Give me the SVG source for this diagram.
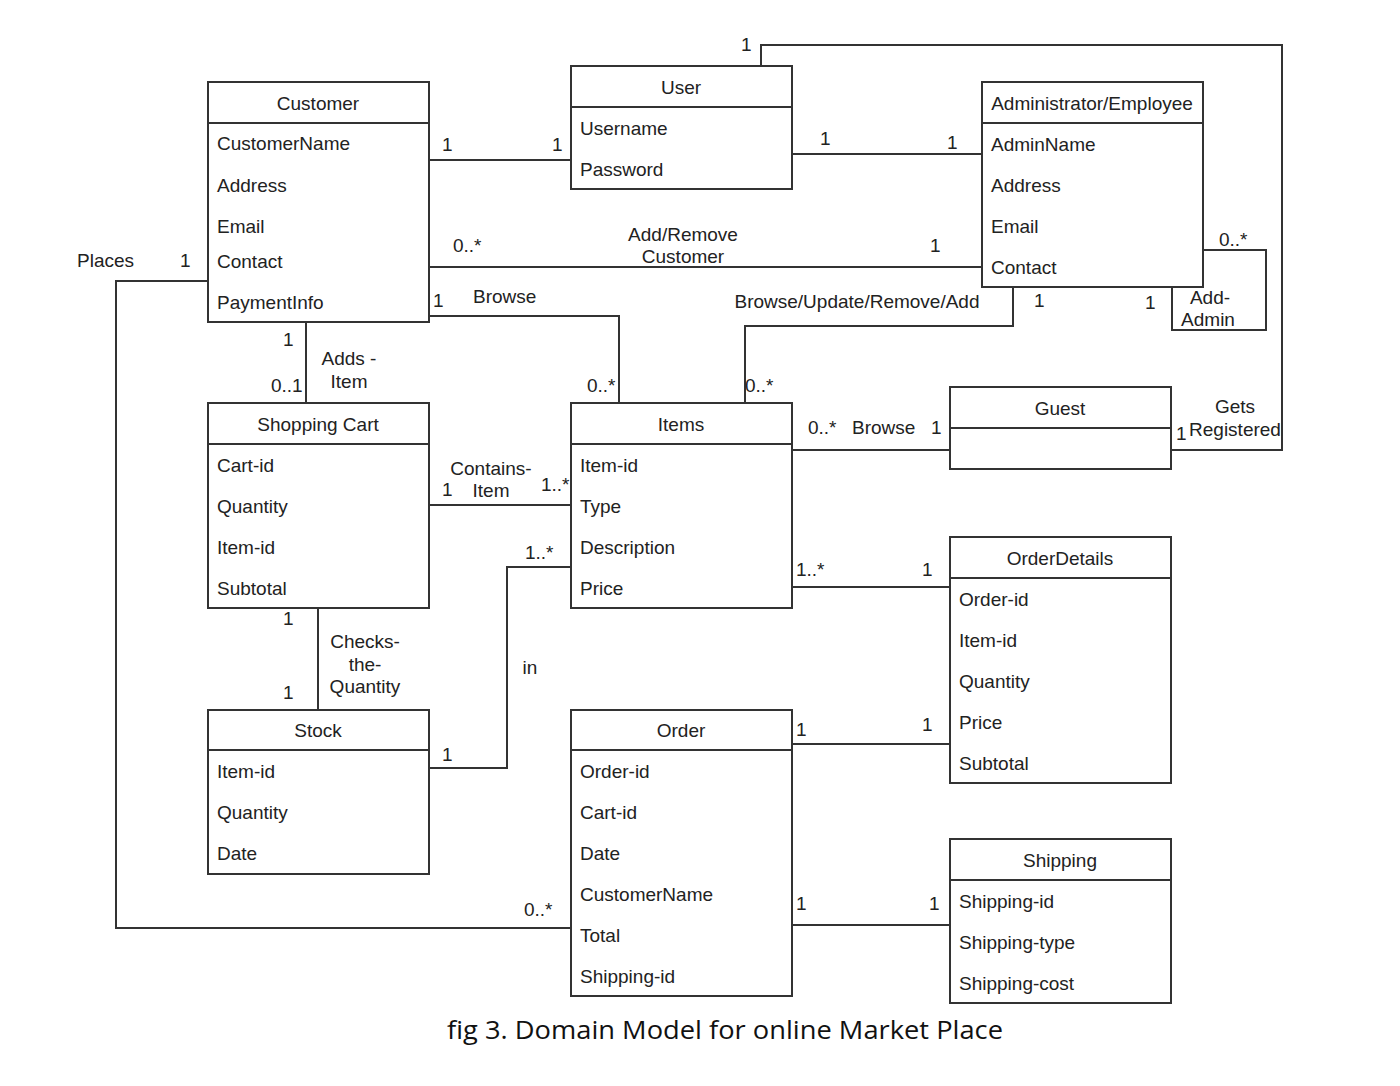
<svg xmlns="http://www.w3.org/2000/svg" width="1400" height="1086" viewBox="0 0 1400 1086">
<style>
.box{fill:#fff;stroke:#333;stroke-width:2}
.div{stroke:#333;stroke-width:2}
.t{font-family:"Liberation Sans",Arial,sans-serif;font-size:19px;fill:#222}
.c{text-anchor:middle}
.ln{fill:none;stroke:#333;stroke-width:2}
.cap{font-family:"Open Sans","Noto Sans",sans-serif;font-size:26px;fill:#111;text-anchor:middle}
</style>
<rect width="1400" height="1086" fill="#fff"/>
<g id="connectors">
<path class="ln" d="M429 160H571"/>
<path class="ln" d="M792 154H982"/>
<path class="ln" d="M429 267H982"/>
<path class="ln" d="M429 316H619V403"/>
<path class="ln" d="M1013 287V326H745V403"/>
<path class="ln" d="M1203 250H1266V330H1172V287"/>
<path class="ln" d="M761 66V45H1282V450H1171"/>
<path class="ln" d="M792 450H950"/>
<path class="ln" d="M306 322V403"/>
<path class="ln" d="M429 505H571"/>
<path class="ln" d="M318 608V710"/>
<path class="ln" d="M429 768H507V567H571"/>
<path class="ln" d="M792 587H950"/>
<path class="ln" d="M792 744H950"/>
<path class="ln" d="M792 925H950"/>
<path class="ln" d="M208 281H116V928H571"/>
<g class="t">
<text x="442" y="151">1</text>
<text x="552" y="151">1</text>
<text x="820" y="145">1</text>
<text x="947" y="149">1</text>
<text x="453" y="252">0..*</text>
<text class="c" x="683" y="241">Add/Remove</text>
<text class="c" x="683" y="263">Customer</text>
<text x="930" y="252">1</text>
<text x="433" y="307">1</text>
<text x="473" y="303">Browse</text>
<text x="587" y="392">0..*</text>
<text class="c" x="857" y="308">Browse/Update/Remove/Add</text>
<text x="1034" y="307">1</text>
<text x="745" y="392">0..*</text>
<text x="1219" y="246">0..*</text>
<text x="1145" y="309">1</text>
<text class="c" x="1210" y="304">Add-</text>
<text class="c" x="1208" y="326">Admin</text>
<text x="741" y="51">1</text>
<text class="c" x="1235" y="413">Gets</text>
<text class="c" x="1235" y="436">Registered</text>
<text x="1176" y="440">1</text>
<text x="808" y="434">0..*</text>
<text x="852" y="434">Browse</text>
<text x="931" y="434">1</text>
<text x="283" y="346">1</text>
<text x="271" y="392">0..1</text>
<text class="c" x="349" y="365">Adds -</text>
<text class="c" x="349" y="388">Item</text>
<text x="442" y="496">1</text>
<text class="c" x="491" y="475">Contains-</text>
<text class="c" x="491" y="497">Item</text>
<text x="541" y="491">1..*</text>
<text x="283" y="625">1</text>
<text x="283" y="699">1</text>
<text class="c" x="365" y="648">Checks-</text>
<text class="c" x="365" y="671">the-</text>
<text class="c" x="365" y="693">Quantity</text>
<text x="442" y="761">1</text>
<text x="525" y="559">1..*</text>
<text class="c" x="530" y="674">in</text>
<text x="796" y="576">1..*</text>
<text x="922" y="576">1</text>
<text x="796" y="736">1</text>
<text x="922" y="731">1</text>
<text x="796" y="910">1</text>
<text x="929" y="910">1</text>
<text x="77" y="267">Places</text>
<text x="180" y="267">1</text>
<text x="524" y="916">0..*</text>
</g>
</g>
<g id="customer">
<rect class="box" x="208" y="82" width="221" height="240"/>
<line class="div" x1="208" y1="123" x2="429" y2="123"/>
<g class="t"><text class="c" x="318" y="110">Customer</text>
<text x="217" y="150">CustomerName</text>
<text x="217" y="192">Address</text>
<text x="217" y="233">Email</text>
<text x="217" y="268">Contact</text>
<text x="217" y="309">PaymentInfo</text></g>
</g>
<g id="user">
<rect class="box" x="571" y="66" width="221" height="123"/>
<line class="div" x1="571" y1="107" x2="792" y2="107"/>
<g class="t"><text class="c" x="681" y="94">User</text>
<text x="580" y="135">Username</text>
<text x="580" y="176">Password</text></g>
</g>
<g id="admin">
<rect class="box" x="982" y="82" width="221" height="205"/>
<line class="div" x1="982" y1="123" x2="1203" y2="123"/>
<g class="t"><text class="c" x="1092" y="110">Administrator/Employee</text>
<text x="991" y="151">AdminName</text>
<text x="991" y="192">Address</text>
<text x="991" y="233">Email</text>
<text x="991" y="274">Contact</text></g>
</g>
<g id="shoppingcart">
<rect class="box" x="208" y="403" width="221" height="205"/>
<line class="div" x1="208" y1="444" x2="429" y2="444"/>
<g class="t"><text class="c" x="318" y="431">Shopping Cart</text>
<text x="217" y="472">Cart-id</text>
<text x="217" y="513">Quantity</text>
<text x="217" y="554">Item-id</text>
<text x="217" y="595">Subtotal</text></g>
</g>
<g id="items">
<rect class="box" x="571" y="403" width="221" height="205"/>
<line class="div" x1="571" y1="444" x2="792" y2="444"/>
<g class="t"><text class="c" x="681" y="431">Items</text>
<text x="580" y="472">Item-id</text>
<text x="580" y="513">Type</text>
<text x="580" y="554">Description</text>
<text x="580" y="595">Price</text></g>
</g>
<g id="guest">
<rect class="box" x="950" y="387" width="221" height="82"/>
<line class="div" x1="950" y1="428" x2="1171" y2="428"/>
<text class="t c" x="1060" y="415">Guest</text>
</g>
<g id="orderdetails">
<rect class="box" x="950" y="537" width="221" height="246"/>
<line class="div" x1="950" y1="578" x2="1171" y2="578"/>
<g class="t"><text class="c" x="1060" y="565">OrderDetails</text>
<text x="959" y="606">Order-id</text>
<text x="959" y="647">Item-id</text>
<text x="959" y="688">Quantity</text>
<text x="959" y="729">Price</text>
<text x="959" y="770">Subtotal</text></g>
</g>
<g id="stock">
<rect class="box" x="208" y="710" width="221" height="164"/>
<line class="div" x1="208" y1="750" x2="429" y2="750"/>
<g class="t"><text class="c" x="318" y="737">Stock</text>
<text x="217" y="778">Item-id</text>
<text x="217" y="819">Quantity</text>
<text x="217" y="860">Date</text></g>
</g>
<g id="order">
<rect class="box" x="571" y="710" width="221" height="286"/>
<line class="div" x1="571" y1="750" x2="792" y2="750"/>
<g class="t"><text class="c" x="681" y="737">Order</text>
<text x="580" y="778">Order-id</text>
<text x="580" y="819">Cart-id</text>
<text x="580" y="860">Date</text>
<text x="580" y="901">CustomerName</text>
<text x="580" y="942">Total</text>
<text x="580" y="983">Shipping-id</text></g>
</g>
<g id="shipping">
<rect class="box" x="950" y="839" width="221" height="164"/>
<line class="div" x1="950" y1="880" x2="1171" y2="880"/>
<g class="t"><text class="c" x="1060" y="867">Shipping</text>
<text x="959" y="908">Shipping-id</text>
<text x="959" y="949">Shipping-type</text>
<text x="959" y="990">Shipping-cost</text></g>
</g>
<text class="cap" x="725" y="1039" textLength="556" lengthAdjust="spacingAndGlyphs">fig 3. Domain Model for online Market Place</text>
</svg>
